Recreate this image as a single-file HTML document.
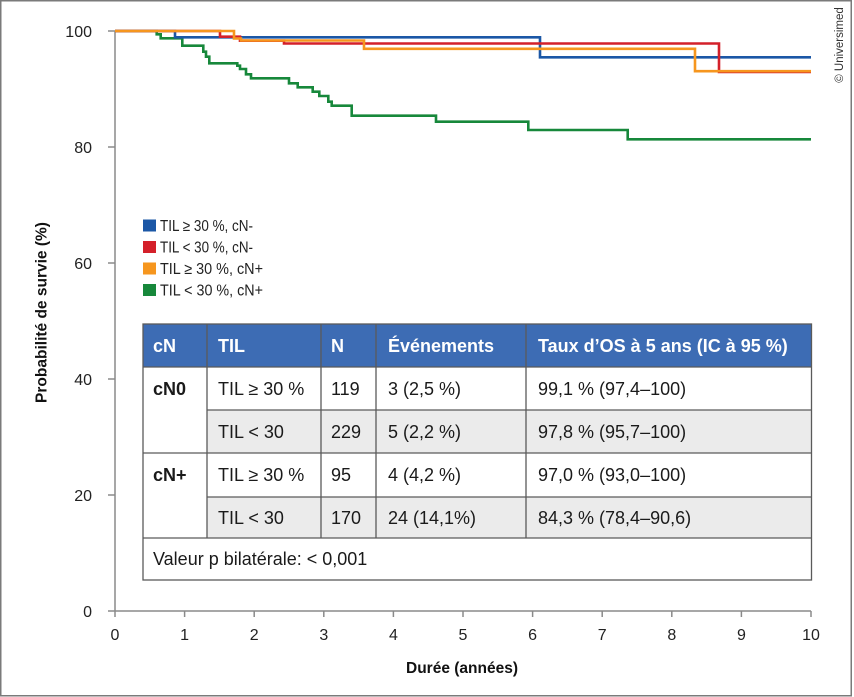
<!DOCTYPE html>
<html>
<head>
<meta charset="utf-8">
<style>
  html, body { margin:0; padding:0; background:#fff; }
  svg { display:block; }
  text { font-family: "Liberation Sans", Arial, sans-serif; }
</style>
</head>
<body>
<svg width="854" height="697" viewBox="0 0 854 697" xmlns="http://www.w3.org/2000/svg">
  <rect x="0.75" y="0.75" width="850.5" height="695" fill="#fff" stroke="#7a7a7a" stroke-width="1.5"/>

  <!-- Universimed -->
  <text x="0" y="0" transform="translate(843,45) rotate(-90)" text-anchor="middle" font-size="11.5" fill="#333">© Universimed</text>

  <!-- Axes -->
  <g stroke="#8a8a8a" stroke-width="1.5" fill="none">
    <line x1="115" y1="31" x2="115" y2="611"/>
    <line x1="108" y1="611" x2="811" y2="611"/>
    <line x1="108" y1="31" x2="115" y2="31"/>
    <line x1="108" y1="147" x2="115" y2="147"/>
    <line x1="108" y1="263" x2="115" y2="263"/>
    <line x1="108" y1="379" x2="115" y2="379"/>
    <line x1="108" y1="495" x2="115" y2="495"/>
    <line x1="115" y1="611" x2="115" y2="617"/>
    <line x1="184.6" y1="611" x2="184.6" y2="617"/>
    <line x1="254.2" y1="611" x2="254.2" y2="617"/>
    <line x1="323.8" y1="611" x2="323.8" y2="617"/>
    <line x1="393.4" y1="611" x2="393.4" y2="617"/>
    <line x1="463" y1="611" x2="463" y2="617"/>
    <line x1="532.6" y1="611" x2="532.6" y2="617"/>
    <line x1="602.2" y1="611" x2="602.2" y2="617"/>
    <line x1="671.8" y1="611" x2="671.8" y2="617"/>
    <line x1="741.4" y1="611" x2="741.4" y2="617"/>
    <line x1="811" y1="611" x2="811" y2="617"/>
  </g>

  <!-- Y tick labels -->
  <g font-size="16" fill="#222" text-anchor="end">
    <text x="92" y="37">100</text>
    <text x="92" y="153">80</text>
    <text x="92" y="269">60</text>
    <text x="92" y="385">40</text>
    <text x="92" y="501">20</text>
    <text x="92" y="617">0</text>
  </g>
  <!-- X tick labels -->
  <g font-size="16" fill="#222" text-anchor="middle">
    <text x="115" y="640">0</text>
    <text x="184.6" y="640">1</text>
    <text x="254.2" y="640">2</text>
    <text x="323.8" y="640">3</text>
    <text x="393.4" y="640">4</text>
    <text x="463" y="640">5</text>
    <text x="532.6" y="640">6</text>
    <text x="602.2" y="640">7</text>
    <text x="671.8" y="640">8</text>
    <text x="741.4" y="640">9</text>
    <text x="811" y="640">10</text>
  </g>

  <!-- Axis titles -->
  <text x="462" y="673" text-anchor="middle" font-size="15.5" font-weight="bold" fill="#111">Durée (années)</text>
  <text x="0" y="0" transform="translate(46.5,312.5) rotate(-90)" text-anchor="middle" font-size="15.5" font-weight="bold" fill="#111">Probabilité de survie (%)</text>

  <!-- Curves -->
  <g fill="none" stroke-width="2.6" stroke-linejoin="miter" stroke-linecap="butt">
    <path stroke="#17883b" d="M115,31 H156.7 V34.3 H160.7 V38.3 H182.3 V45.7 H203.3 V51.7 H206 V56.7 H209.3 V63.3 H237.3 V65.7 H240 V69 H246 V74.3 H251 V78.3 H289 V83.3 H297.7 V87.3 H312.7 V91.7 H319.3 V96 H328.3 V101.7 H331.7 V105.7 H351.7 V115.7 H436 V121.7 H528.3 V130 H627.7 V139.3 H811"/>
    <path stroke="#1b57a6" d="M115,31 H175 V37.3 H540 V57.3 H811"/>
    <path stroke="#d4202a" d="M115,31 H220 V36.7 H240 V40.7 H284 V43.5 H719 V71.9 H811"/>
    <path stroke="#f6961e" d="M115,31 H234 V38.5 H241 V40.5 H364 V48.8 H695 V71.2 H811"/>
  </g>

  <!-- Legend -->
  <rect x="143" y="219.5" width="13" height="12" fill="#1b57a6"/>
  <rect x="143" y="241" width="13" height="12" fill="#d4202a"/>
  <rect x="143" y="262.5" width="13" height="12" fill="#f6961e"/>
  <rect x="143" y="284" width="13" height="12" fill="#17883b"/>
  <g font-size="15.5" fill="#222">
    <text x="160" y="231" textLength="93" lengthAdjust="spacingAndGlyphs">TIL ≥ 30 %, cN-</text>
    <text x="160" y="252.5" textLength="93" lengthAdjust="spacingAndGlyphs">TIL &lt; 30 %, cN-</text>
    <text x="160" y="274" textLength="103" lengthAdjust="spacingAndGlyphs">TIL ≥ 30 %, cN+</text>
    <text x="160" y="295.5" textLength="103" lengthAdjust="spacingAndGlyphs">TIL &lt; 30 %, cN+</text>
  </g>

  <!-- Table -->
  <rect x="143" y="324" width="668.5" height="256" fill="#fff"/>
  <rect x="143" y="324" width="668.5" height="43" fill="#3d6cb4"/>
  <rect x="207" y="410" width="604.5" height="43" fill="#ebebeb"/>
  <rect x="207" y="497" width="604.5" height="41" fill="#ebebeb"/>
  <g stroke="#5a5a5a" stroke-width="1.3" fill="none">
    <rect x="143" y="324" width="668.5" height="256"/>
    <line x1="143" y1="367" x2="811.5" y2="367"/>
    <line x1="207" y1="410" x2="811.5" y2="410"/>
    <line x1="143" y1="453" x2="811.5" y2="453"/>
    <line x1="207" y1="497" x2="811.5" y2="497"/>
    <line x1="143" y1="538" x2="811.5" y2="538"/>
    <line x1="207" y1="324" x2="207" y2="538"/>
    <line x1="321" y1="324" x2="321" y2="538"/>
    <line x1="376" y1="324" x2="376" y2="538"/>
    <line x1="526" y1="324" x2="526" y2="538"/>
  </g>
  <g font-size="18" font-weight="bold" fill="#fff">
    <text x="153" y="352">cN</text>
    <text x="218" y="352">TIL</text>
    <text x="331" y="352">N</text>
    <text x="388" y="352">Événements</text>
    <text x="538" y="352">Taux d’OS à 5 ans (IC à 95 %)</text>
  </g>
  <g font-size="18" fill="#1a1a1a">
    <text x="153" y="395" font-weight="bold">cN0</text>
    <text x="218" y="395">TIL ≥ 30 %</text>
    <text x="331" y="395">119</text>
    <text x="388" y="395">3 (2,5 %)</text>
    <text x="538" y="395">99,1 % (97,4–100)</text>

    <text x="218" y="438">TIL &lt; 30</text>
    <text x="331" y="438">229</text>
    <text x="388" y="438">5 (2,2 %)</text>
    <text x="538" y="438">97,8 % (95,7–100)</text>

    <text x="153" y="481" font-weight="bold">cN+</text>
    <text x="218" y="481">TIL ≥ 30 %</text>
    <text x="331" y="481">95</text>
    <text x="388" y="481">4 (4,2 %)</text>
    <text x="538" y="481">97,0 % (93,0–100)</text>

    <text x="218" y="524">TIL &lt; 30</text>
    <text x="331" y="524">170</text>
    <text x="388" y="524">24 (14,1%)</text>
    <text x="538" y="524">84,3 % (78,4–90,6)</text>

    <text x="153" y="565">Valeur p bilatérale: &lt; 0,001</text>
  </g>
</svg>
</body>
</html>
